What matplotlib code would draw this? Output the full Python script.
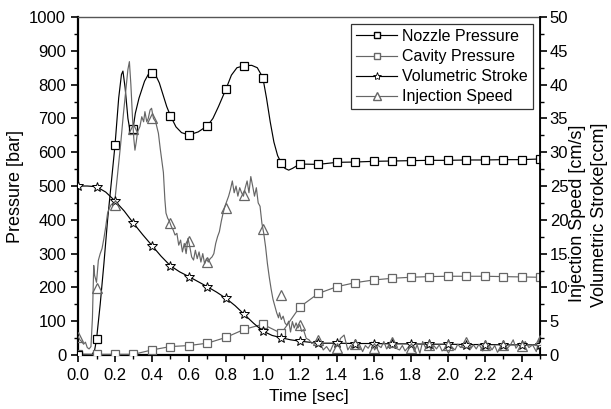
import matplotlib
matplotlib.use("Agg")
import matplotlib.pyplot as plt
from matplotlib.lines import Line2D
from matplotlib.ticker import MultipleLocator

plt.rcParams['font.family'] = ['Liberation Sans', 'DejaVu Sans']

# ---------------- data ----------------
# marker times (every 0.1 s)
t_mark = [0.0, 0.1, 0.2, 0.3, 0.4, 0.5, 0.6, 0.7, 0.8, 0.9, 1.0, 1.1, 1.2,
          1.3, 1.4, 1.5, 1.6, 1.7, 1.8, 1.9, 2.0, 2.1, 2.2, 2.3, 2.4, 2.5]

# nozzle pressure [bar]
nozzle_mark = [0, 46, 620, 668, 835, 708, 651, 678, 786, 856, 821, 568, 565,
               564, 570, 571, 573, 574, 575, 576, 576, 577, 577, 578, 578, 580]
nozzle_t = [0.0, 0.05, 0.075, 0.09, 0.1, 0.12, 0.14, 0.16, 0.18, 0.2, 0.22,
            0.235, 0.243, 0.255, 0.27, 0.285, 0.295, 0.31, 0.33, 0.36, 0.38,
            0.4, 0.42, 0.44, 0.46, 0.48, 0.5, 0.53, 0.56, 0.6, 0.65, 0.7,
            0.73, 0.76, 0.8, 0.83, 0.86, 0.9, 0.94, 0.97, 1.0, 1.02, 1.04,
            1.06, 1.08, 1.1, 1.12, 1.14, 1.16, 1.2, 1.3, 1.4, 1.5, 1.6, 1.7,
            1.8, 1.9, 2.0, 2.1, 2.2, 2.3, 2.4, 2.5]
nozzle_val = [0, 0, 0, 15, 46, 150, 270, 400, 510, 620, 760,
              830, 840, 790, 700, 652, 660, 715, 760, 810, 830,
              835, 828, 805, 770, 735, 708, 675, 658, 651, 660, 678,
              700, 735, 786, 828, 850, 856, 857, 850, 821, 760, 690,
              630, 590, 568, 552, 547, 552, 565, 564, 570, 571, 573, 574,
              575, 576, 576, 577, 577, 578, 578, 580]

# cavity pressure [bar]
cavity_mark = [3, 2, 2, 2, 15, 25, 28, 35, 52, 76, 91, 64, 142,
               182, 202, 214, 222, 227, 230, 232, 233, 233, 233, 232, 231, 230]

# volumetric stroke [ccm]
stroke_mark = [25.0, 24.9, 22.8, 19.5, 16.2, 13.2, 11.6, 10.1, 8.4, 6.0, 3.55,
               2.55, 2.05, 1.75, 1.75, 1.7, 1.7, 1.65, 1.65, 1.6, 1.6, 1.55,
               1.55, 1.5, 1.5, 1.5]
stroke_t = [0.0, 0.05, 0.1, 0.15, 0.2, 0.25, 0.3, 0.35, 0.4, 0.45, 0.5, 0.55,
            0.6, 0.65, 0.7, 0.75, 0.8, 0.85, 0.9, 0.95, 1.0, 1.05, 1.1, 1.15,
            1.2, 1.25, 1.3, 1.4, 1.5, 1.6, 1.7, 1.8, 1.9, 2.0, 2.1, 2.2, 2.3,
            2.4, 2.5]
stroke_val = [25.0, 25.0, 24.9, 24.1, 22.8, 21.3, 19.5, 17.8, 16.2, 14.6, 13.2,
              12.3, 11.6, 10.85, 10.1, 9.3, 8.4, 7.3, 6.0, 4.7, 3.55, 2.9,
              2.55, 2.25, 2.05, 1.9, 1.75, 1.75, 1.7, 1.7, 1.65, 1.65, 1.6,
              1.6, 1.55, 1.55, 1.5, 1.5, 1.5]

# injection speed [cm/s]
inject_mark = [2.7, 9.85, 22.2, 33.5, 35.0, 19.5, 16.85, 13.8, 21.8, 23.65,
               18.65, 8.9, 4.45, 2.2, 1.05, 1.6, 1.0, 1.9, 1.0, 1.5, 1.5,
               1.95, 1.5, 1.55, 1.35, 2.2]
inject_t = [0.0, 0.01, 0.02, 0.03, 0.04, 0.05, 0.06, 0.07, 0.078, 0.085, 0.09,
            0.1, 0.11, 0.12, 0.13, 0.14, 0.15, 0.16, 0.17, 0.18, 0.19, 0.2,
            0.215, 0.23, 0.245, 0.26, 0.27, 0.278, 0.286, 0.295, 0.302, 0.308,
            0.315, 0.322, 0.335, 0.345, 0.355, 0.362, 0.372, 0.38, 0.39,
            0.398, 0.408, 0.42, 0.435, 0.445, 0.453, 0.462, 0.47, 0.476,
            0.485, 0.495, 0.505, 0.515, 0.525, 0.535, 0.545, 0.555, 0.565,
            0.575, 0.585, 0.595, 0.605, 0.615, 0.625, 0.635, 0.645, 0.655,
            0.665, 0.675, 0.685, 0.695, 0.705, 0.715, 0.725, 0.735, 0.745,
            0.755, 0.765, 0.775, 0.785, 0.795, 0.805, 0.815, 0.825, 0.835,
            0.845, 0.855, 0.865, 0.875, 0.885, 0.895, 0.905, 0.915, 0.925,
            0.935, 0.945, 0.955, 0.965, 0.975, 0.985, 0.995, 1.005, 1.015,
            1.025, 1.035, 1.045, 1.055, 1.065, 1.075, 1.085, 1.09, 1.1, 1.11,
            1.12, 1.13, 1.14, 1.15, 1.16, 1.17, 1.18, 1.19, 1.2, 1.21, 1.22,
            1.235, 1.25, 1.265, 1.28, 1.3, 1.315, 1.327, 1.345, 1.364, 1.38,
            1.395, 1.41, 1.42, 1.44, 1.46, 1.475, 1.49, 1.505, 1.52, 1.54,
            1.555, 1.57, 1.59, 1.605, 1.62, 1.64, 1.655, 1.67, 1.69, 1.705,
            1.72, 1.74, 1.755, 1.77, 1.79, 1.805, 1.82, 1.835, 1.85, 1.865,
            1.88, 1.895, 1.91, 1.925, 1.94, 1.955, 1.97, 1.99, 2.005, 2.02,
            2.04, 2.055, 2.07, 2.09, 2.105, 2.12, 2.14, 2.155, 2.17, 2.19,
            2.205, 2.22, 2.24, 2.255, 2.27, 2.29, 2.305, 2.32, 2.34, 2.355,
            2.37, 2.39, 2.405, 2.42, 2.44, 2.46, 2.48, 2.49, 2.5]
inject_val = [2.75, 2.25, 2.0, 1.6, 1.9, 1.1, 0.9, 1.25, 5.5, 13.25, 11.75,
              10.75, 14.0, 15.0, 15.75, 17.25, 19.0, 21.0, 21.75, 22.25, 22.45,
              23.0, 27.0, 31.0, 35.5, 39.5, 42.25, 43.4, 40.0, 35.0, 32.0, 30.3,
              31.5, 33.0, 33.8, 35.25, 34.5, 36.0, 34.5, 35.0, 36.25,
              36.5, 35.0, 34.5, 32.8, 30.5, 28.85, 27.0, 23.0, 21.0,
              20.25, 19.75, 19.0, 18.5, 17.75, 18.0, 16.25, 17.0, 15.25,
              16.5, 15.0, 17.25, 16.0, 14.5, 14.05, 15.5, 14.25, 15.25,
              13.75, 15.0, 13.5, 14.25, 13.75, 14.25, 14.5, 15.0, 16.5,
              17.5, 18.25, 19.75, 21.0, 22.0, 22.75, 23.5, 24.5, 25.75,
              24.0, 25.0, 23.5, 24.75, 24.0, 23.5, 24.75, 25.75, 24.0,
              26.4, 25.0, 23.5, 24.75, 22.5, 22.0, 19.5, 18.0, 16.0,
              13.5, 11.5, 9.75, 8.25, 7.25, 6.25, 5.5, 6.25, 5.25, 5.75,
              4.75, 4.4, 5.0, 3.4, 4.95, 4.0, 4.75, 4.0, 4.5, 3.5, 3.75,
              2.45, 2.25, 1.7, 2.0, 2.2, 1.5, 0.75, 1.25, 0.5, 1.5,
              1.75, 1.25, 2.45, 2.95, 0.75, 1.4, 1.1, 1.6, 1.75, 0.5,
              1.4, 1.0, 1.9, 0.75, 1.5, 1.1, 2.0, 0.9, 1.6, 2.25,
              1.0, 0.75, 1.4, 0.6, 1.25, 1.75, 0.5, 1.5, 0.25, 2.0,
              1.1, 1.75, 0.75, 1.4, 0.9, 1.5, 0.6, 1.0, 0.25, 1.25,
              0.75, 1.6, 1.1, 1.9, 1.4, 0.75, 1.5, 0.9, 1.6, 0.6,
              1.25, 1.75, 0.75, 1.4, 0.4, 1.25, 1.9, 0.9, 1.5, 2.25,
              1.0, 1.75, 1.25, 2.0, 1.1, 1.5, 0.5, 1.75, 2.75]

series_names = ["Nozzle Pressure", "Cavity Pressure",
                "Volumetric Stroke", "Injection Speed"]

# ---------------- plot ----------------
dark = "black"
gray = "#666666"

fig = plt.figure(figsize=(6.11, 4.09), dpi=100)
ax = fig.add_axes([0.1277, 0.132, 0.7561, 0.8264])
ax2 = ax.twinx()

lw = 0.85
ax.plot(nozzle_t, nozzle_val, color=dark, lw=lw, zorder=3)
ax.plot(t_mark, nozzle_mark, ls="none", marker="s", ms=6, mfc="white",
        mec=dark, mew=0.9, zorder=4)
ax.plot(t_mark, cavity_mark, color=gray, lw=lw, marker="s", ms=6,
        mfc="white", mec=gray, mew=0.9, zorder=3)

ax2.plot(stroke_t, stroke_val, color=dark, lw=lw, zorder=3)
ax2.plot(t_mark, stroke_mark, ls="none", marker="*", ms=7.5, mfc="white",
         mec=dark, mew=0.7, zorder=4)
ax2.plot(inject_t, inject_val, color=gray, lw=lw, zorder=3)
ax2.plot(t_mark, inject_mark, ls="none", marker="^", ms=7, mfc="none",
         mec=gray, mew=0.9, zorder=5)

ax.set_xlim(0, 2.5)
ax.set_ylim(0, 1000)
ax2.set_ylim(0, 50)

ax.xaxis.set_major_locator(MultipleLocator(0.2))
ax.xaxis.set_minor_locator(MultipleLocator(0.1))
ax.yaxis.set_major_locator(MultipleLocator(100))
ax.yaxis.set_minor_locator(MultipleLocator(50))
ax2.yaxis.set_major_locator(MultipleLocator(5))
ax2.yaxis.set_minor_locator(MultipleLocator(2.5))
ax.xaxis.set_major_formatter(plt.FuncFormatter(lambda v, p: f"{v:.1f}"))

ax.tick_params(axis="both", which="major", direction="out", length=5,
               width=1.2, labelsize=12, top=False)
ax.tick_params(axis="x", which="major", pad=4)
ax.tick_params(axis="both", which="minor", direction="out", length=3,
               width=1.0, top=False)
ax2.tick_params(axis="y", which="major", direction="out", length=5,
                width=1.2, labelsize=12, pad=2)
ax2.tick_params(axis="y", which="minor", direction="out", length=3, width=1.0)

for s in ["left", "bottom"]:
    ax.spines[s].set_linewidth(1.6)
ax.spines["top"].set_color("#555555")
ax.spines["top"].set_linewidth(1.0)
ax2.spines["right"].set_linewidth(1.3)
for s in ["left", "bottom", "top"]:
    ax2.spines[s].set_visible(False)

ax.set_xlabel("Time [sec]", fontsize=12.5, labelpad=5)
ax.set_ylabel("Pressure [bar]", fontsize=13, labelpad=4)
fig.text(578 / 611, 1 - 213 / 409, "Injection Speed [cm/s]", rotation=90,
         ha="center", va="center", fontsize=13)
fig.text(600 / 611, 1 - 215 / 409, "Volumetric Stroke[ccm]", rotation=90,
         ha="center", va="center", fontsize=13)

handles = [
    Line2D([], [], color=dark, lw=lw, marker="s", ms=5, mfc="white", mec=dark),
    Line2D([], [], color=gray, lw=lw, marker="s", ms=5, mfc="white", mec=gray),
    Line2D([], [], color=dark, lw=lw, marker="*", ms=6, mfc="white", mec=dark,
           mew=0.6),
    Line2D([], [], color=gray, lw=lw, marker="^", ms=5.5, mfc="white", mec=gray),
]
leg = ax2.legend(handles, series_names, loc="upper right", fontsize=11.5,
                 frameon=True, fancybox=False, edgecolor="black",
                 handlelength=2.6, handletextpad=0.3, borderpad=0.3,
                 labelspacing=0.32, borderaxespad=0.45)
leg.get_frame().set_linewidth(0.9)

fig.savefig("out.png", dpi=100)
